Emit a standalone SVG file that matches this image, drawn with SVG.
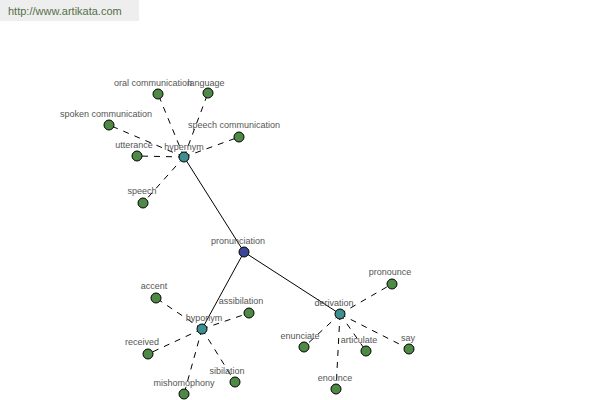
<svg xmlns="http://www.w3.org/2000/svg" width="600" height="400" viewBox="0 0 600 400">
<style>
.lbl{font-family:"Liberation Sans",Arial,sans-serif;font-size:9px;fill:#555;text-anchor:middle}
.leaf{fill:#4e8a46;stroke:#000;stroke-width:1}
.mid{fill:#3e9090;stroke:#000;stroke-width:1}
.root{fill:#3c4696;stroke:#000;stroke-width:1}
.solid{stroke:#000;stroke-width:1;fill:none}
.dash{stroke:#000;stroke-width:1;fill:none;stroke-dasharray:6,6}
</style>
<rect x="0" y="0" width="139" height="21" fill="#eeeeee"/>
<text x="8" y="15" font-family="Liberation Sans,Arial,sans-serif" font-size="11" fill="#55704a">http://www.artikata.com</text>
<g id="connectors">
<line class="solid" x1="244" y1="252" x2="184" y2="157"/>
<line class="solid" x1="244" y1="252" x2="202" y2="329"/>
<line class="solid" x1="244" y1="252" x2="340" y2="314"/>
<line class="dash" x1="184" y1="157" x2="158" y2="94"/>
<line class="dash" x1="184" y1="157" x2="208" y2="93"/>
<line class="dash" x1="184" y1="157" x2="109" y2="125"/>
<line class="dash" x1="184" y1="157" x2="239" y2="137"/>
<line class="dash" x1="184" y1="157" x2="137" y2="156"/>
<line class="dash" x1="184" y1="157" x2="143" y2="203"/>
<line class="dash" x1="202" y1="329" x2="156" y2="298"/>
<line class="dash" x1="202" y1="329" x2="249" y2="313"/>
<line class="dash" x1="202" y1="329" x2="148" y2="354"/>
<line class="dash" x1="202" y1="329" x2="184" y2="394"/>
<line class="dash" x1="202" y1="329" x2="235" y2="382"/>
<line class="dash" x1="340" y1="314" x2="392" y2="284"/>
<line class="dash" x1="340" y1="314" x2="304" y2="347"/>
<line class="dash" x1="340" y1="314" x2="366" y2="351"/>
<line class="dash" x1="340" y1="314" x2="409" y2="349"/>
<line class="dash" x1="340" y1="314" x2="336" y2="389"/>
</g>
<g id="n-oral"><circle class="leaf" cx="158" cy="94" r="5"/><text class="lbl" x="153" y="86">oral communication</text></g>
<g id="n-language"><circle class="leaf" cx="208" cy="93" r="5"/><text class="lbl" x="206" y="86">language</text></g>
<g id="n-spoken"><circle class="leaf" cx="109" cy="125" r="5"/><text class="lbl" x="106" y="117">spoken communication</text></g>
<g id="n-speechcomm"><circle class="leaf" cx="239" cy="137" r="5"/><text class="lbl" x="234" y="128">speech communication</text></g>
<g id="n-utterance"><circle class="leaf" cx="137" cy="156" r="5"/><text class="lbl" x="134" y="148">utterance</text></g>
<g id="n-speech"><circle class="leaf" cx="143" cy="203" r="5"/><text class="lbl" x="142" y="194">speech</text></g>
<g id="n-hypernym"><circle class="mid" cx="184" cy="157" r="5"/><text class="lbl" x="184" y="150">hypernym</text></g>
<g id="n-pronunciation"><circle class="root" cx="244" cy="252" r="5"/><text class="lbl" x="238" y="244">pronunciation</text></g>
<g id="n-hyponym"><circle class="mid" cx="202" cy="329" r="5"/><text class="lbl" x="204" y="321">hyponym</text></g>
<g id="n-accent"><circle class="leaf" cx="156" cy="298" r="5"/><text class="lbl" x="154" y="289">accent</text></g>
<g id="n-assibilation"><circle class="leaf" cx="249" cy="313" r="5"/><text class="lbl" x="241" y="304">assibilation</text></g>
<g id="n-received"><circle class="leaf" cx="148" cy="354" r="5"/><text class="lbl" x="142" y="345">received</text></g>
<g id="n-mishomophony"><circle class="leaf" cx="184" cy="394" r="5"/><text class="lbl" x="184" y="386">mishomophony</text></g>
<g id="n-sibilation"><circle class="leaf" cx="235" cy="382" r="5"/><text class="lbl" x="227" y="374">sibilation</text></g>
<g id="n-derivation"><circle class="mid" cx="340" cy="314" r="5"/><text class="lbl" x="334" y="306">derivation</text></g>
<g id="n-pronounce"><circle class="leaf" cx="392" cy="284" r="5"/><text class="lbl" x="390" y="275">pronounce</text></g>
<g id="n-enunciate"><circle class="leaf" cx="304" cy="347" r="5"/><text class="lbl" x="300" y="339">enunciate</text></g>
<g id="n-articulate"><circle class="leaf" cx="366" cy="351" r="5"/><text class="lbl" x="359" y="343">articulate</text></g>
<g id="n-say"><circle class="leaf" cx="409" cy="349" r="5"/><text class="lbl" x="408" y="341">say</text></g>
<g id="n-enounce"><circle class="leaf" cx="336" cy="389" r="5"/><text class="lbl" x="335" y="381">enounce</text></g>
</svg>
